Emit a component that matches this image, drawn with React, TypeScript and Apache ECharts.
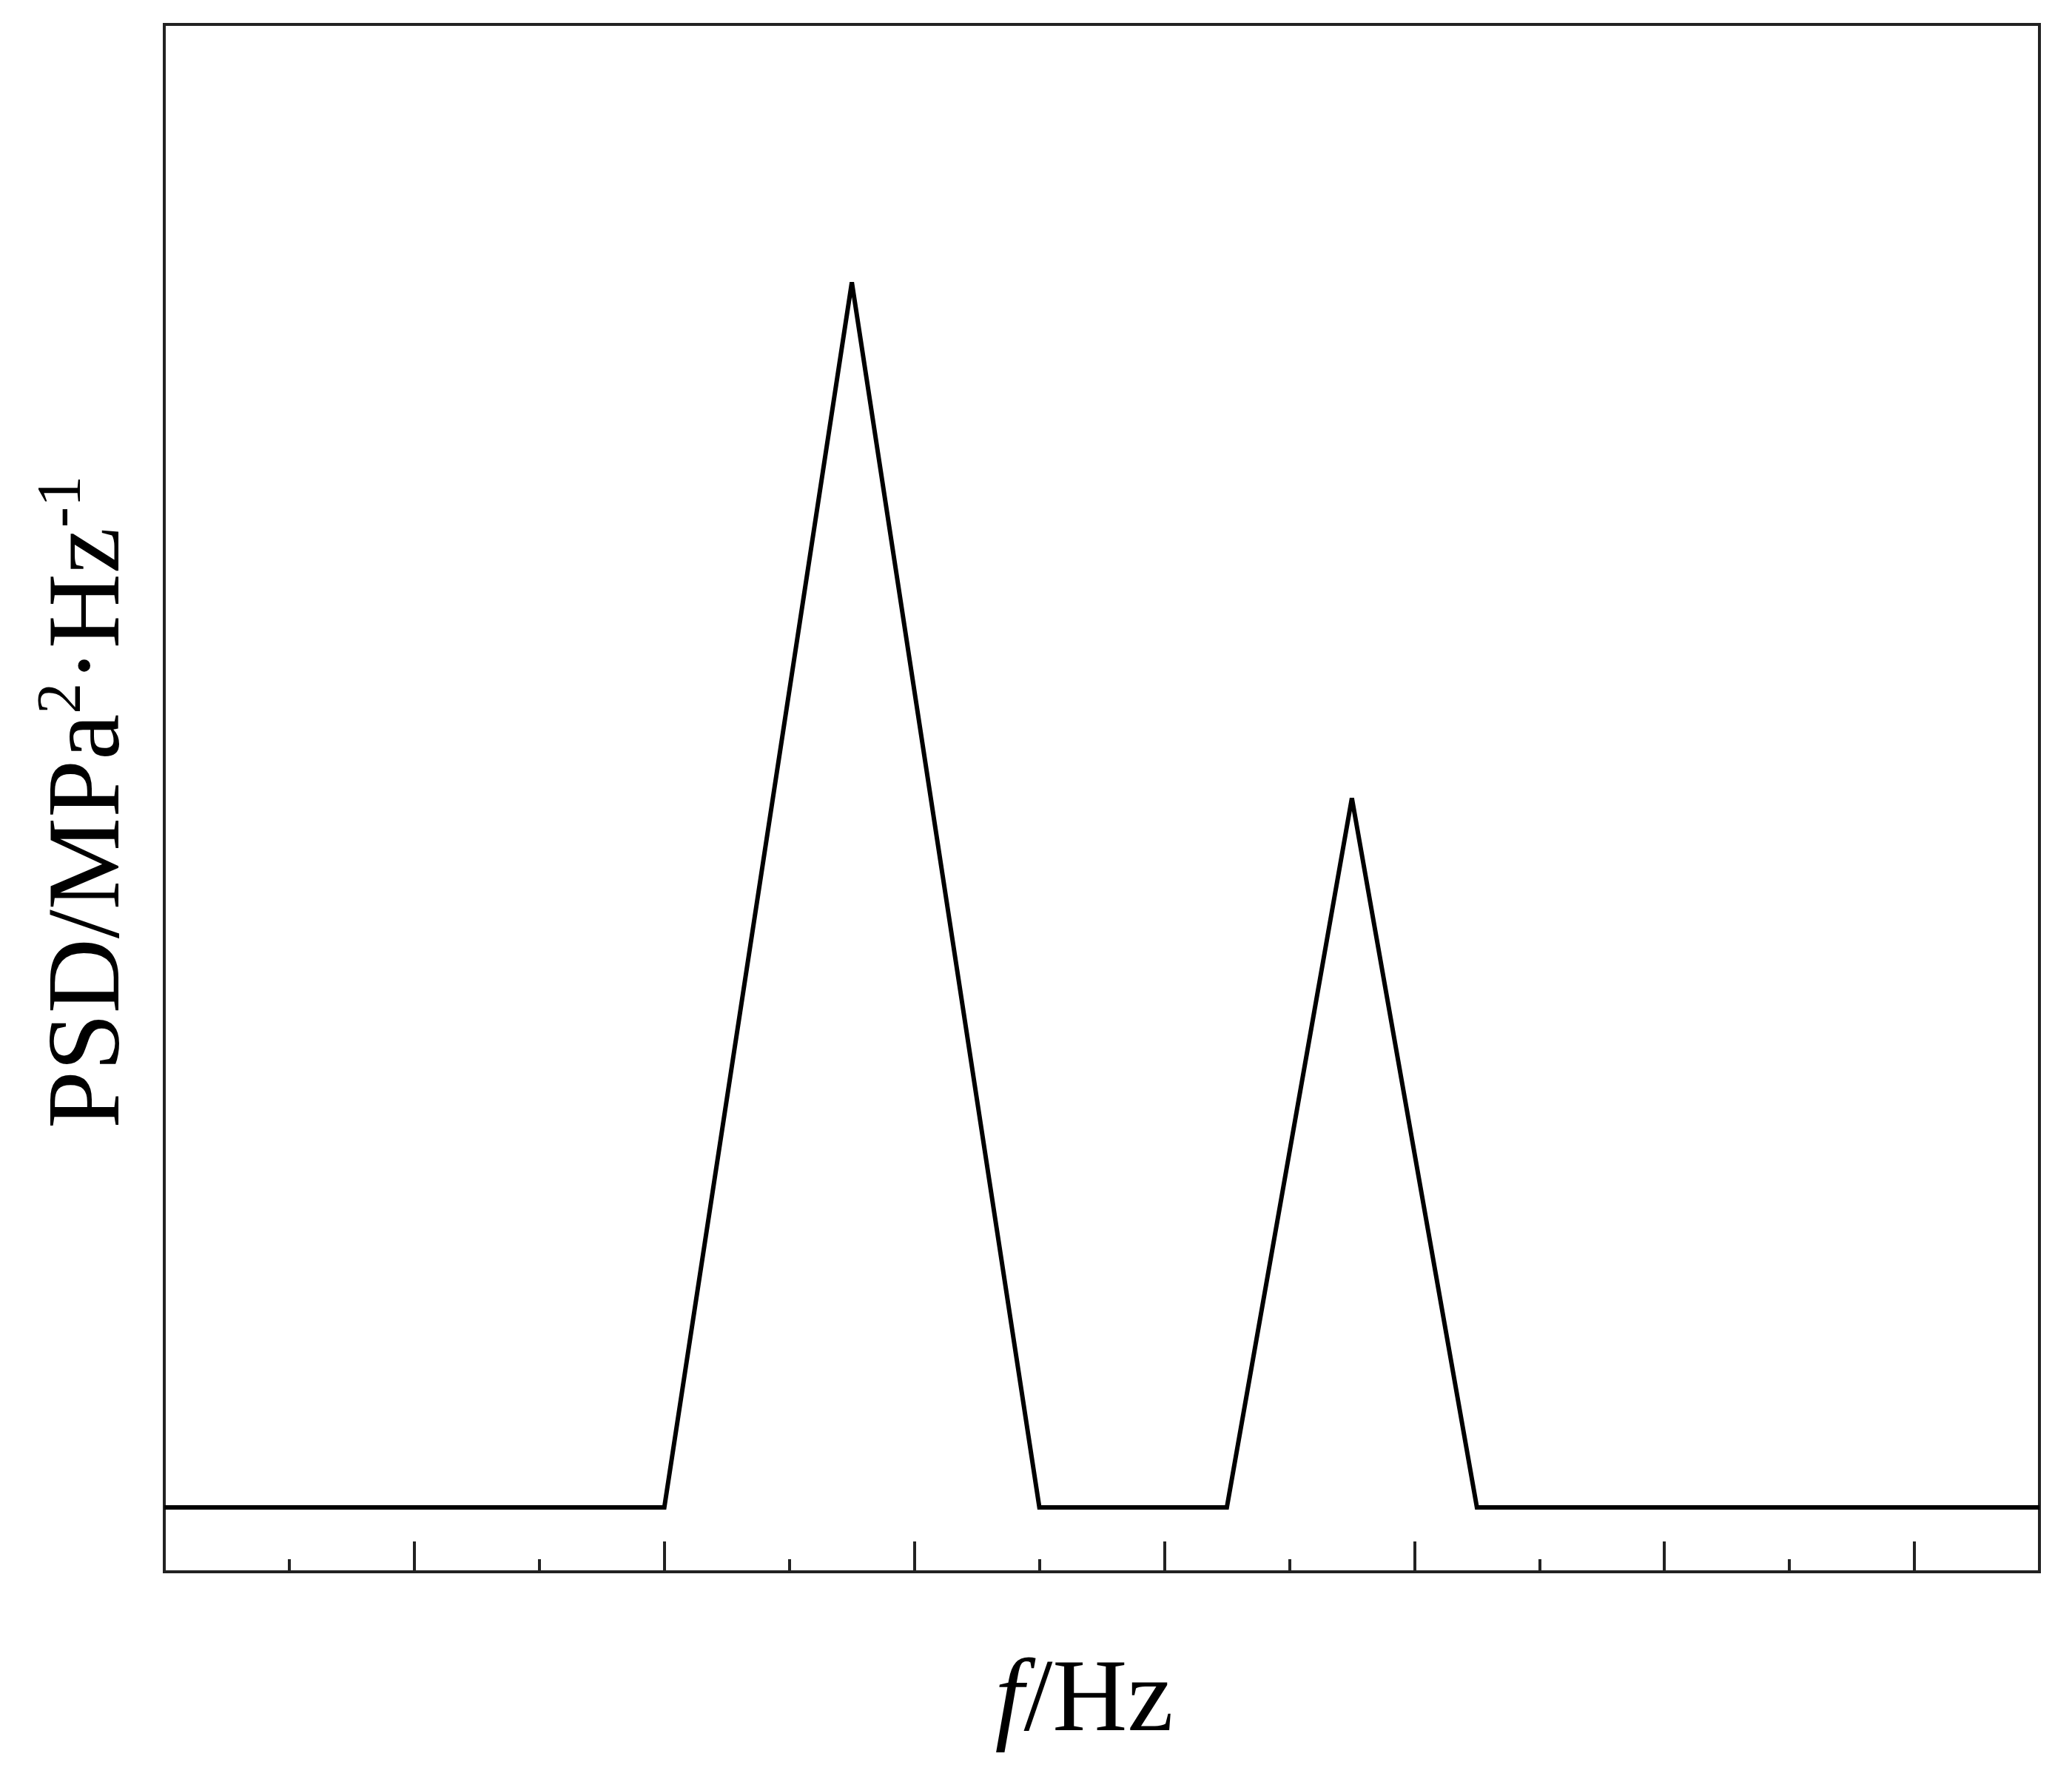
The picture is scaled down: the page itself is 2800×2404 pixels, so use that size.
import React, { useEffect, useRef } from "react";
import * as echarts from "echarts";

const freq: number[] = [0, 4, 5.5, 7, 8.5, 9.5, 10.5, 15];
const psd: number[] = [0.5, 0.5, 10, 0.5, 0.5, 6, 0.5, 0.5];
const xMin = 0;
const xMax = 15;
const yMin = 0;
const yMax = 12;
const yLabelParts = ["PSD/MPa", "2", "·Hz", "-1"];
const xLabelParts = ["f", "/Hz"];

const W = 2800;
const H = 2404;
const FONT = "'Liberation Serif', 'Times New Roman', serif";
const AXIS_COLOR = "#222222";

export default function App() {
  const ref = useRef<HTMLDivElement>(null);
  useEffect(() => {
    document.body.style.margin = "0";
    if (!ref.current) return;
    const chart = echarts.init(ref.current, null, { renderer: "svg" });
    const data = freq.map((f, i) => [f, psd[i]]);
    chart.setOption({
      animation: false,
      backgroundColor: "#ffffff",
      grid: {
        left: 222,
        right: 44,
        top: 33,
        bottom: 280,
        show: true,
        borderColor: AXIS_COLOR,
        borderWidth: 4,
        backgroundColor: "transparent",
      },
      xAxis: [
        {
          type: "value",
          min: xMin,
          max: xMax,
          interval: 2,
          position: "bottom",
          axisLine: { show: true, onZero: false, lineStyle: { color: AXIS_COLOR, width: 4 } },
          axisTick: { show: true, inside: true, length: 41, lineStyle: { color: AXIS_COLOR, width: 4 } },
          axisLabel: { show: false },
          splitLine: { show: false },
        },
        {
          type: "value",
          min: xMin,
          max: xMax,
          interval: 1,
          position: "bottom",
          axisLine: { show: false, onZero: false },
          axisTick: { show: true, inside: true, length: 17, lineStyle: { color: AXIS_COLOR, width: 4 } },
          axisLabel: { show: false },
          splitLine: { show: false },
        },
      ],
      yAxis: {
        type: "value",
        min: yMin,
        max: yMax,
        axisLine: { show: true, onZero: false, lineStyle: { color: AXIS_COLOR, width: 4 } },
        axisTick: { show: false },
        axisLabel: { show: false },
        splitLine: { show: false },
      },
      series: [
        {
          type: "line",
          xAxisIndex: 0,
          data,
          symbol: "none",
          lineStyle: { color: "#000000", width: 6, join: "miter" },
          itemStyle: { color: "#000000" },
        },
      ],
      graphic: [
        {
          type: "text",
          x: 112,
          y: 1084,
          rotation: Math.PI / 2,
          style: {
            text: `{m|${yLabelParts[0]}}{s|${yLabelParts[1]}}{m|${yLabelParts[2]}}{s|${yLabelParts[3]}}`,
            align: "center",
            verticalAlign: "middle",
            fill: "#000",
            rich: {
              m: { fontFamily: FONT, fontSize: 140, lineHeight: 150, fill: "#000" },
              s: { fontFamily: FONT, fontSize: 84, lineHeight: 150, verticalAlign: "top", fill: "#000" },
            },
          },
        },
        {
          type: "text",
          x: 1465,
          y: 2290,
          style: {
            text: `{i|${xLabelParts[0]}}{m|${xLabelParts[1]}}`,
            align: "center",
            verticalAlign: "middle",
            fill: "#000",
            rich: {
              i: { fontFamily: FONT, fontSize: 140, fontStyle: "italic", fill: "#000" },
              m: { fontFamily: FONT, fontSize: 140, fill: "#000" },
            },
          },
        },
      ],
    });
    return () => chart.dispose();
  }, []);
  return <div ref={ref} style={{ width: W, height: H }} />;
}
